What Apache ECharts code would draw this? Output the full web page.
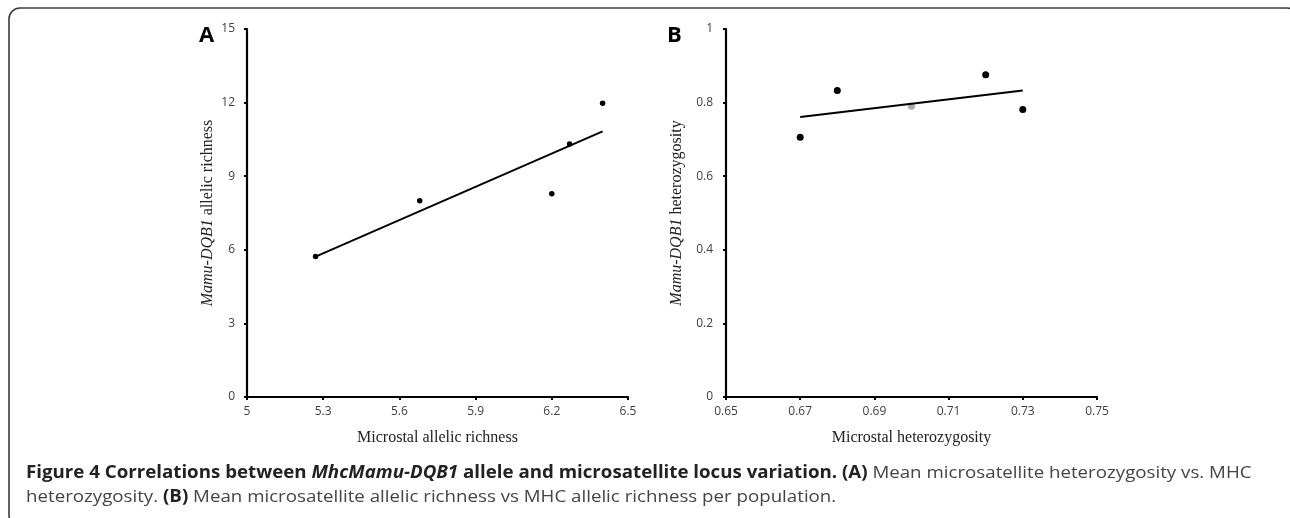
<!DOCTYPE html>
<html>
<head>
<meta charset="utf-8">
<script src="https://cdn.jsdelivr.net/npm/echarts@6/dist/echarts.min.js"></script>
<style>
html,body{margin:0;padding:0;background:#fff;}
#c{width:1290px;height:518px;}
</style>
</head>
<body>
<div id="c"></div>
<script>
// Panel A: microsatellite allelic richness vs Mamu-DQB1 allelic richness
const aX = [5.27, 5.68, 6.20, 6.27, 6.40];
const aY = [5.73, 8.00, 8.28, 10.31, 11.97];
const aFitX = [5.27, 6.40];
const aFitY = [5.72, 10.83];
// Panel B: microsatellite heterozygosity vs Mamu-DQB1 heterozygosity
const bX = [0.67, 0.68, 0.70, 0.72, 0.73];
const bY = [0.706, 0.833, 0.790, 0.876, 0.781];
const bGray = [false, false, true, false, false];
const bFitX = [0.67, 0.73];
const bFitY = [0.761, 0.833];
// Axis ranges / ticks
const aXAxis = {min: 5, max: 6.5, step: 0.3};
const aYAxis = {min: 0, max: 15, step: 3};
const bXAxis = {min: 0.65, max: 0.75, step: 0.02};
const bYAxis = {min: 0, max: 1, step: 0.2};

const chart = echarts.init(document.getElementById('c'), null, {renderer: 'canvas'});
const tickFont = {fontFamily: 'Open Sans', fontSize: 12, color: '#404040'};
const nameFont = {fontFamily: 'Liberation Serif', fontSize: 16, color: '#222'};

function xAx(idx, r, name) {
  return {
    type: 'value', gridIndex: idx, min: r.min, max: r.max, interval: r.step,
    name: name, nameLocation: 'middle', nameGap: 33, nameTextStyle: nameFont,
    axisLine: {show: true, onZero: false, lineStyle: {color: '#000', width: 2.2}},
    axisTick: {show: true, length: 3, lineStyle: {color: '#000', width: 2}},
    axisLabel: Object.assign({margin: 9}, tickFont),
    splitLine: {show: false}
  };
}
function yAx(idx, r, rest, gap, margin) {
  return {
    type: 'value', gridIndex: idx, min: r.min, max: r.max, interval: r.step,
    name: '{i|Mamu-DQB1} ' + rest, nameLocation: 'middle', nameGap: gap, nameRotate: 90,
    nameTextStyle: Object.assign({}, nameFont, {rich: {i: Object.assign({}, nameFont, {fontStyle: 'italic'})}}),
    axisLine: {show: true, onZero: false, lineStyle: {color: '#000', width: 2.2}},
    axisTick: {show: true, length: 3, lineStyle: {color: '#000', width: 2}},
    axisLabel: Object.assign({margin: margin}, tickFont),
    splitLine: {show: false}
  };
}

const option = {
  animation: false,
  backgroundColor: '#fff',
  grid: [
    {left: 247, top: 29, width: 381, height: 368},
    {left: 726, top: 29, width: 371, height: 368}
  ],
  xAxis: [xAx(0, aXAxis, 'Microstal allelic richness'), xAx(1, bXAxis, 'Microstal heterozygosity')],
  yAxis: [yAx(0, aYAxis, 'allelic richness', 31, 12), yAx(1, bYAxis, 'heterozygosity', 41, 13)],
  series: [
    {type: 'line', xAxisIndex: 0, yAxisIndex: 0, data: aFitX.map((x, i) => [x, aFitY[i]]),
     symbol: 'none', lineStyle: {color: '#000', width: 2}, z: 2},
    {type: 'scatter', xAxisIndex: 0, yAxisIndex: 0, data: aX.map((x, i) => [x, aY[i]]),
     symbolSize: 5.5, itemStyle: {color: '#000', opacity: 1}, z: 3},
    {type: 'line', xAxisIndex: 1, yAxisIndex: 1, data: bFitX.map((x, i) => [x, bFitY[i]]),
     symbol: 'none', lineStyle: {color: '#000', width: 2}, z: 2},
    {type: 'scatter', xAxisIndex: 1, yAxisIndex: 1,
     data: bX.map((x, i) => ({value: [x, bY[i]], itemStyle: {color: bGray[i] ? '#aaa' : '#000'}})),
     symbolSize: 7, itemStyle: {opacity: 1}, z: 1}
  ],
  graphic: [
    {type: 'rect', shape: {x: 9, y: 8, width: 1289, height: 518, r: 11}, silent: true,
     style: {fill: 'none', stroke: '#3a3a3a', lineWidth: 1.6}},
    {type: 'text', left: 199, top: 25, style: {text: 'A', font: 'bold 22px "Open Sans"', fill: '#000'}},
    {type: 'text', left: 667, top: 25, style: {text: 'B', font: 'bold 22px "Open Sans"', fill: '#000'}},
    {type: 'text', x: 26, y: 461, scaleX: 1.1, originX: 0, style: {
      text: '{b|Figure 4 Correlations between }{bi|MhcMamu-DQB1}{b| allele and microsatellite locus variation. (A)}{n| Mean microsatellite heterozygosity vs. MHC}\n{n|heterozygosity. }{b|(B)}{n| Mean microsatellite allelic richness vs MHC allelic richness per population.}',
      rich: {
        b: {fontFamily: 'Open Sans', fontSize: 17, fontWeight: 'bold', fill: '#222', lineHeight: 24},
        bi: {fontFamily: 'Open Sans', fontSize: 17, fontWeight: 'bold', fontStyle: 'italic', fill: '#222', lineHeight: 24},
        n: {fontFamily: 'Open Sans', fontSize: 17, fill: '#444', lineHeight: 24}
      }
    }}
  ]
};
chart.setOption(option);
</script>
</body>
</html>
